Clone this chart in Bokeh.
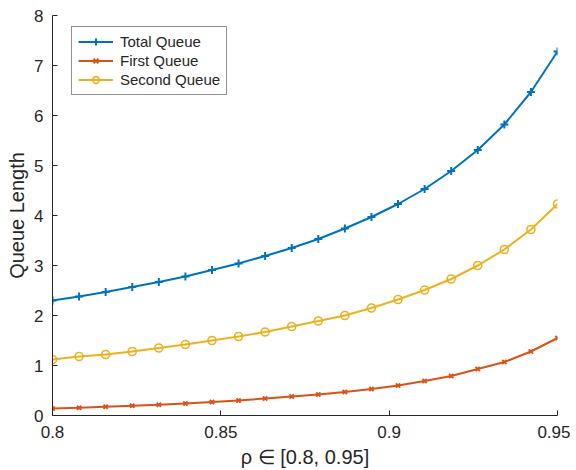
from bokeh.plotting import figure
from bokeh.embed import file_html
from bokeh.resources import INLINE
from bokeh.models import FixedTicker, Range1d

rho = [0.8 + 0.15 * i / 19 for i in range(20)]
total_queue = [2.30, 2.38, 2.47, 2.57, 2.67, 2.78, 2.91, 3.04, 3.19, 3.35,
               3.53, 3.74, 3.97, 4.23, 4.53, 4.89, 5.31, 5.82, 6.47, 7.28]
first_queue = [0.14, 0.155, 0.175, 0.195, 0.215, 0.24, 0.27, 0.30, 0.34, 0.38,
               0.42, 0.47, 0.53, 0.60, 0.69, 0.79, 0.93, 1.07, 1.28, 1.55]
second_queue = [1.12, 1.18, 1.22, 1.28, 1.35, 1.42, 1.50, 1.58, 1.67, 1.78,
                1.89, 2.00, 2.15, 2.32, 2.51, 2.73, 3.00, 3.32, 3.72, 4.23]
x_ticks = [0.8, 0.85, 0.9, 0.95]
y_ticks = [0, 1, 2, 3, 4, 5, 6, 7, 8]

FONT = "Liberation Sans"
AX = "#262626"

p = figure(width=570, height=470, output_backend="svg", toolbar_location=None,
           x_range=Range1d(0.8, 0.95), y_range=Range1d(0, 8),
           min_border_left=52, min_border_right=13, min_border_top=15,
           min_border_bottom=55)
p.outline_line_color = None
p.grid.visible = False
p.background_fill_color = "white"

series = [
    (total_queue, "#0072BD", "cross", 8, 2, "Total Queue"),
    (first_queue, "#D95319", "x", 6, 2, "First Queue"),
    (second_queue, "#EDB120", "circle", 8, 1.6, "Second Queue"),
]
for ys, c, m, s, lw, lab in series:
    p.line(rho, ys, line_color=c, line_width=2, legend_label=lab)
    p.scatter(rho, ys, marker=m, size=s, line_color=c, fill_color=None,
              line_width=lw, legend_label=lab)

p.xaxis.ticker = FixedTicker(ticks=x_ticks)
p.yaxis.ticker = FixedTicker(ticks=y_ticks)
p.xaxis.major_label_overrides = {0.8: "0.8", 0.85: "0.85", 0.9: "0.9", 0.95: "0.95"}
for ax in (p.xaxis[0], p.yaxis[0]):
    ax.axis_line_color = AX
    ax.major_tick_line_color = AX
    ax.major_tick_in = 5
    ax.major_tick_out = 0
    ax.minor_tick_line_color = None
    ax.major_label_text_font = FONT
    ax.major_label_text_font_size = "17px"
    ax.major_label_text_color = AX
    ax.axis_label_text_font = FONT
    ax.axis_label_text_font_size = "20px"
    ax.axis_label_text_font_style = "normal"
    ax.axis_label_text_color = AX

p.xaxis.axis_label = "ρ ∈ [0.8, 0.95]"
p.yaxis.axis_label = "Queue Length"
p.xaxis.major_label_standoff = 10
p.yaxis.major_label_standoff = 9
p.xaxis.axis_label_standoff = 5
p.yaxis.axis_label_standoff = 3

lg = p.legend[0]
lg.location = (19, 320)
lg.label_text_font = FONT
lg.label_text_font_size = "15px"
lg.label_text_color = AX
lg.glyph_width = 35
lg.glyph_height = 17
lg.label_height = 17
lg.label_width = 100
lg.spacing = 2
lg.padding = 6
lg.margin = 0
lg.label_standoff = 7
lg.border_line_color = AX
lg.border_line_width = 1
lg.background_fill_alpha = 1

open("out.html", "w").write(file_html(p, INLINE))
